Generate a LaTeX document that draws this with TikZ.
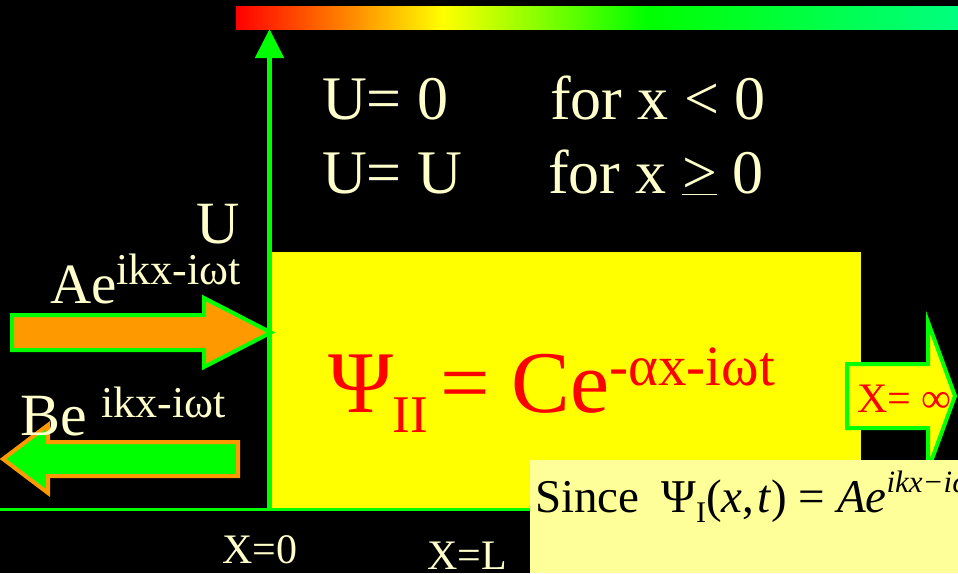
\documentclass[tikz,border=0pt]{standalone}
\usepackage{fontspec}
\setmainfont{Liberation Serif}
\usetikzlibrary{arrows.meta}
\definecolor{cream}{HTML}{FFFFCC}
\definecolor{ylw}{HTML}{FFFF00}
\definecolor{notebg}{HTML}{FFFF99}
\definecolor{grn}{HTML}{00FF00}
\definecolor{org}{HTML}{FF9900}
\definecolor{rd}{HTML}{FF0000}
\definecolor{sgrn}{HTML}{00FF80}
\newcommand{\fs}[1]{\fontsize{#1pt}{#1pt}\selectfont}
\tikzset{
  lbl/.style={anchor=base west, inner sep=0pt, outer sep=0pt, text=cream},
  blockarrow/.style={line width=4pt, line join=miter},
}
\begin{document}
\begin{tikzpicture}[x=1pt,y=-1pt]
\useasboundingbox (0,0) rectangle (958,573);
\fill[black] (0,0) rectangle (958,573);
% gradient bar
\shade[left color=rd, right color=org] (236,6) rectangle (363,29);
\shade[left color=org, right color=ylw] (362.5,6) rectangle (443,29);
\shade[left color=ylw, right color=grn] (442.5,6) rectangle (647,29);
\shade[left color=grn, right color=sgrn] (646.5,6) rectangle (958,29);
% yellow region
\fill[ylw] (272,252) rectangle (861,508);
% axes
\coordinate (axisbot) at (269.5,509);
\coordinate (axistop) at (269.5,29);
\coordinate (baseL) at (0,509.5);
\coordinate (baseR) at (532,509.5);
\draw[grn, line width=5pt, -{Triangle[length=29pt,width=28pt]}] (axisbot) -- (axistop);
\draw[grn, line width=3pt] (baseL) -- (baseR);
% incident arrow
\draw[blockarrow, draw=grn, fill=org] (12,315) -- (204,315) -- (204,298) -- (271,332.5) -- (204,367) -- (204,350) -- (12,350) -- cycle;
% reflected arrow
\draw[blockarrow, draw=org, fill=grn] (238,442) -- (48,442) -- (48,425) -- (3,459) -- (48,493) -- (48,476) -- (238,476) -- cycle;
% transmitted arrow
\draw[blockarrow, draw=grn, fill=ylw] (847,364) -- (928,364) -- (928,322) -- (955,396) -- (928,470) -- (928,428) -- (847,428) -- cycle;
% texts
\node[lbl] (u0) at (322,119) {\fs{62}U= 0};
\node[lbl] (c0) at (550,119) {\fs{62}for x < 0};
\node[lbl] (uu) at (322,193) {\fs{62}U= U};
\node[lbl] (c1) at (548,193) {\fs{62}for x \underline{>} 0};
\node[lbl] (ulab) at (196,243) {\fs{60}U};
\node[lbl] (ae) at (50,303) {\fs{57}Ae\raisebox{19pt}{\fs{44}ikx-iωt}};
\node[lbl] (be) at (20,435) {\fs{60}Be \raisebox{18pt}{\fs{44}ikx-iωt}};
\node[lbl, text=rd] (psi2) at (328,412) {\fs{88}Ψ\raisebox{-20pt}{\fs{53}II}\hspace{12pt}=\hspace{22pt}Ce\raisebox{27pt}{\fs{57}-αx-iωt}};
\node[lbl, text=rd] (xinf) at (857,412) {\fs{42}X= ∞};
\node[lbl] (x0) at (222,563) {\fs{42}X=0};
\node[lbl] (xl) at (427,569) {\fs{42}X=L};
% note box
\fill[notebg] (530,460) rectangle (958,573);
\begin{scope}
\clip (530,460) rectangle (958,573);
\node[lbl, text=black] (since) at (535,512) {\fs{47}Since\hspace{22pt}Ψ\raisebox{-10pt}{\fs{30}I}(\textit{x},\hspace{3pt}\textit{t}) = \textit{Ae}\raisebox{20pt}{\fs{31}\itshape ikx−iωt}};
\end{scope}
\end{tikzpicture}
\end{document}
